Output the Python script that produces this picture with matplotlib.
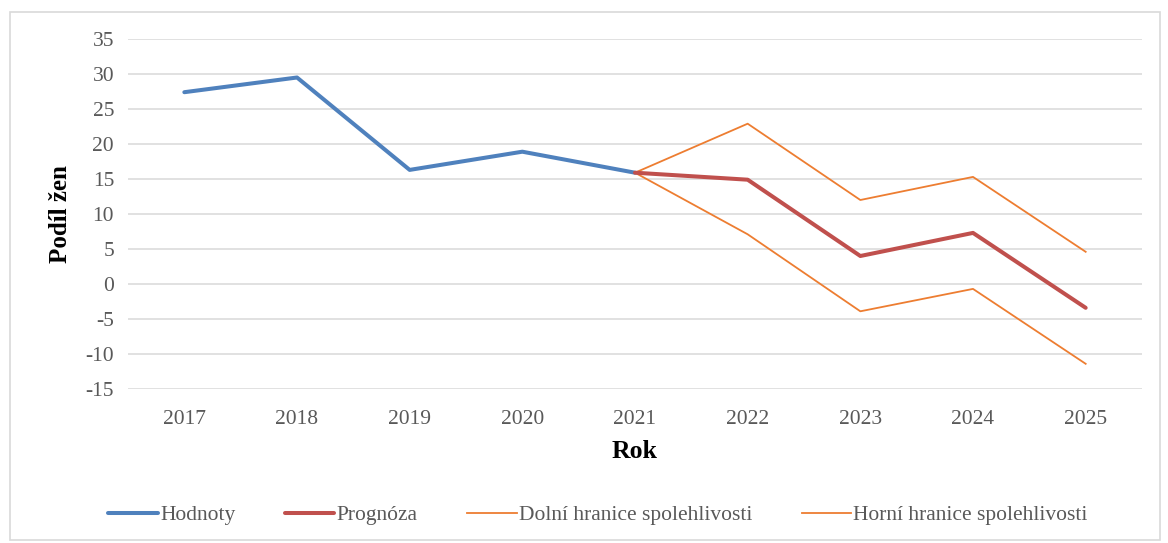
import matplotlib.pyplot as plt
from matplotlib.patches import Rectangle

years = [2017, 2018, 2019, 2020, 2021, 2022, 2023, 2024, 2025]
hodnoty = [27.4, 29.5, 16.3, 18.9, 15.9]
prognoza = [15.9, 14.9, 4.0, 7.3, -3.4]
dolni = [15.9, 7.1, -3.9, -0.7, -11.4]
horni = [15.9, 22.9, 12.0, 15.3, 4.6]

plt.rcParams['font.family'] = ['Liberation Serif', 'DejaVu Serif']
plt.rcParams['axes.unicode_minus'] = False

fig = plt.figure(figsize=(11.68, 5.43), dpi=100)
ax = fig.add_axes([128 / 1168, 1 - 389 / 543, 1014 / 1168, 350 / 543])

x = list(range(len(years)))
ax.plot(x[:5], hodnoty, color='#4F81BD', lw=2.9, solid_capstyle='round', label='Hodnoty', zorder=3)
ax.plot(x[4:], prognoza, color='#C0504D', lw=2.9, solid_capstyle='round', label='Prognóza', zorder=4)
ax.plot(x[4:], dolni, color='#ED7D31', lw=1.3, label='Dolní hranice spolehlivosti', zorder=2)
ax.plot(x[4:], horni, color='#ED7D31', lw=1.3, label='Horní hranice spolehlivosti', zorder=2)

ax.set_xlim(-0.5, len(years) - 0.5)
ax.set_ylim(-15, 35)
ax.set_yticks(range(-15, 36, 5))
ax.set_xticks(x)
ax.set_xticklabels([str(y) for y in years])
ax.grid(axis='y', color='#D9D9D9', lw=1.1)
ax.set_axisbelow(True)
for s in ax.spines.values():
    s.set_visible(False)
ax.tick_params(length=0, labelsize=15.5, labelcolor='#595959', pad=10)
ax.tick_params(axis='x', pad=15)

ax.set_xlabel('Rok', fontsize=18.5, fontweight='bold', labelpad=8)
ax.set_ylabel('Podíl žen', fontsize=18, fontweight='bold', labelpad=10)

fig.legend(loc='center', bbox_to_anchor=(0.512, 1 - 515 / 543), ncol=4, frameon=False,
           fontsize=15.5, handlelength=2.3, handletextpad=0.1, columnspacing=2.3,
           labelcolor='#595959')

fig.patches.append(Rectangle((10 / 1168, 3 / 543), 1150 / 1168, 528 / 543,
                             transform=fig.transFigure, fill=False, edgecolor='#D9D9D9', lw=1.2))

fig.savefig('out.png', dpi=100)
